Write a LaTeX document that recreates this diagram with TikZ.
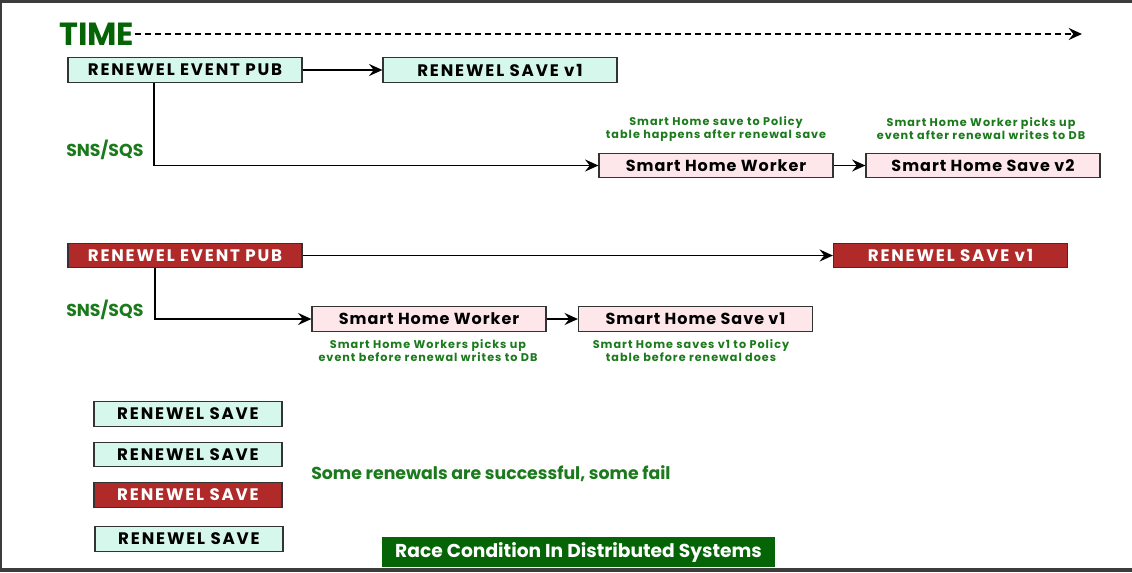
\documentclass[tikz,border=0pt]{standalone}
\usepackage{fontspec}
\setmainfont{Poppins}
\newfontfamily\capsfont[LetterSpace=11]{Poppins}
\newfontfamily\wordfont[LetterSpace=6]{Poppins}
\newfontfamily\notefont[LetterSpace=9]{Poppins}
\usetikzlibrary{arrows.meta}
\definecolor{mint}{HTML}{D6F8EC}
\definecolor{blush}{HTML}{FDE7EA}
\definecolor{brick}{HTML}{AF2A29}
\definecolor{leaf}{HTML}{1B7A1B}
\definecolor{forest}{HTML}{056405}
\definecolor{rim}{HTML}{3C3C3C}
\begin{document}
\begin{tikzpicture}[x=0.75pt,y=-0.75pt,
  box/.style={draw=black!80, line width=0.9pt, minimum width=175.5pt, minimum height=18.5pt, inner sep=0pt, font=\capsfont\bfseries\fontsize{12.5}{14}\selectfont},
  okbox/.style={box, fill=mint},
  badbox/.style={box, fill=brick, text=white},
  homebox/.style={box, fill=blush, font=\wordfont\bfseries\fontsize{12}{14}\selectfont},
  smallbox/.style={minimum width=141pt},
  note/.style={text=leaf, font=\notefont\bfseries\fontsize{8.4}{9.75}\selectfont, align=center},
  tag/.style={anchor=west, inner sep=0pt, text=leaf, font=\bfseries\fontsize{13}{15}\selectfont},
  link/.style={line width=1.4pt, -{Stealth[length=10pt,width=9pt,inset=3.5pt]}}
]
\useasboundingbox (0,0) rectangle (1132,572);
\fill[white] (0,0) rectangle (1132,572);
\fill[rim] (0,0) rectangle (1132,3);
\fill[rim] (0,0) rectangle (2,572);
\fill[rim] (0,568) rectangle (1132,572);

% time line
\node[anchor=west, inner sep=0pt, text=forest, font=\bfseries\fontsize{24}{28}\selectfont] (time) at (59,34) {TIME};
\coordinate (tend) at (1082,34);
\draw[link, dash pattern=on 4.5pt off 3pt] (time.east) -- (tend);

% first run
\node[okbox] (a1) at (185,70) {RENEWEL EVENT PUB};
\node[okbox] (a2) at (500,70) {RENEWEL SAVE v1};
\node[homebox] (b1) at (716,165.5) {Smart Home Worker};
\node[homebox] (b2) at (983,165.5) {Smart Home Save v2};
\coordinate (t1) at (154,0);

\draw[link] (a1)--(a2);
\draw[link] (a1.south -| t1) |- (b1.west);
\draw[link] (b1)--(b2);

\node[tag] (q1) at (66,150) {SNS/SQS};
\node[note] (n1) at (716,128.5) {Smart Home save to Policy\\table happens after renewal save};
\node[note] (n2) at (981,128.5) {Smart Home Worker picks up\\event after renewal writes to DB};

% second run
\node[badbox] (c1) at (185,255.5) {RENEWEL EVENT PUB};
\node[badbox] (c2) at (950.5,255.5) {RENEWEL SAVE v1};
\node[homebox] (d1) at (429,319) {Smart Home Worker};
\node[homebox] (d2) at (695.5,319) {Smart Home Save v1};
\coordinate (t2) at (155,0);

\draw[link] (c1)--(c2);
\draw[link] (c1.south -| t2) |- (d1.west);
\draw[link] (d1)--(d2);

\node[tag] (q2) at (66,310) {SNS/SQS};
\node[note] (n3) at (428,350.5) {Smart Home Workers picks up\\event before renewal writes to DB};
\node[note] (n4) at (691,350.5) {Smart Home saves v1 to Policy\\table before renewal does};

% outcomes
\node[okbox, smallbox] (e1) at (188,414) {RENEWEL SAVE};
\node[okbox, smallbox] (e2) at (188,454.5) {RENEWEL SAVE};
\node[badbox, smallbox] (e3) at (188,495) {RENEWEL SAVE};
\node[okbox, smallbox] (e4) at (189,539) {RENEWEL SAVE};

\node[tag] (s1) at (311,474) {Some renewals are successful, some fail};

\node[fill=forest, text=white, minimum width=294.75pt, minimum height=22.5pt, inner sep=0pt, font=\bfseries\fontsize{14}{16}\selectfont] (title) at (578.5,552) {Race Condition In Distributed Systems};

\end{tikzpicture}
\end{document}
